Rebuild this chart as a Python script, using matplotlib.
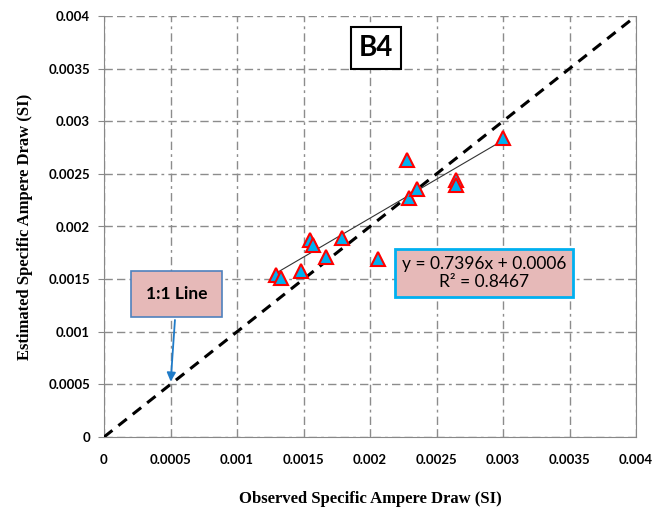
import numpy as np
import matplotlib
matplotlib.use('Agg')
import matplotlib.pyplot as plt

# observed vs estimated specific ampere draw (B4)
observed = [0.00129, 0.00133, 0.00148, 0.00167, 0.00155, 0.00157, 0.00179,
            0.00206, 0.00228, 0.00229, 0.00235, 0.00265, 0.00265, 0.00300]
estimated = [0.00154, 0.00151, 0.00158, 0.00171, 0.00187, 0.00182, 0.00189,
             0.00169, 0.00263, 0.00227, 0.00236, 0.00244, 0.00239, 0.00284]

slope = 0.7396
intercept = 0.0006
r2 = 0.8467

ticks = [0, 0.0005, 0.001, 0.0015, 0.002, 0.0025, 0.003, 0.0035, 0.004]
tick_labels = ['0', '0.0005', '0.001', '0.0015', '0.002', '0.0025', '0.003', '0.0035', '0.004']

fig = plt.figure( figsize = ( 6.54, 5.11 ), dpi = 100 )
ax = fig.add_axes( [ 104/654, 1 - 437/511, 532/654, 421/511 ] )

ax.set_xlim( 0, 0.004 )
ax.set_ylim( 0, 0.004 )
ax.set_xticks( ticks )
ax.set_yticks( ticks )
ax.set_xticklabels( tick_labels, fontfamily = 'Lato', fontweight = 'bold', fontsize = 9.5 )
ax.set_yticklabels( tick_labels, fontfamily = 'Lato', fontweight = 'bold', fontsize = 9.5 )
ax.tick_params( axis = 'x', length = 0, pad = 12 )
ax.tick_params( axis = 'y', length = 4, color = '#888888', pad = 6 )

ax.grid( True, color = '#8c8c8c', linestyle = ( 0, ( 6, 3, 6, 3, 2, 3 ) ), linewidth = 1.0 )
ax.set_axisbelow( True )
for side in [ 'left', 'bottom', 'right' ] :
    ax.spines[ side ].set_color( '#888888' )
ax.spines[ 'top' ].set_visible( False )

# 1:1 line
ax.plot( [ 0, 0.004 ], [ 0, 0.004 ], color = 'black', linestyle = ( 0, ( 3.5, 2.5 ) ), linewidth = 2.2, zorder = 3 )

# trendline
xs = np.array( [ min( observed ), max( observed ) ] )
ax.plot( xs, slope * xs + intercept, color = '#333333', linewidth = 0.8, zorder = 4 )

ax.plot( observed, estimated, linestyle = 'none', marker = '^', markersize = 9.5,
         markerfacecolor = '#00B0F0', markeredgecolor = 'red', markeredgewidth = 1.5, zorder = 5 )

ax.set_xlabel( 'Observed Specific Ampere Draw (SI)', fontfamily = 'Liberation Serif',
               fontweight = 'bold', fontsize = 12, labelpad = 18 )
ax.set_ylabel( 'Estimated Specific Ampere Draw (SI)', fontfamily = 'Liberation Serif',
               fontweight = 'bold', fontsize = 12, labelpad = 11 )

ax.text( 0.002045, 0.003696, 'B4', ha = 'center', va = 'center', fontfamily = 'Lato',
         fontweight = 'bold', fontsize = 20, zorder = 6,
         bbox = dict( boxstyle = 'square,pad=0.28', facecolor = 'white', edgecolor = 'black', linewidth = 1.5 ) )

ax.annotate( '1:1 Line', xy = ( 0.0005, 0.0005 ), xytext = ( 0.000547, 0.00136 ),
             ha = 'center', va = 'center', fontfamily = 'Lato', fontweight = 'bold', fontsize = 12.5,
             bbox = dict( boxstyle = 'square,pad=0.85', facecolor = '#E6B9B8', edgecolor = '#4F81BD', linewidth = 1.2 ),
             arrowprops = dict( arrowstyle = '-|>', color = '#1F7BC8', linewidth = 1.3, mutation_scale = 13 ),
             zorder = 6 )

ax.text( 0.002857, 0.001558, 'y = %.4fx + %.4f\nR² = %.4f' % ( slope, intercept, r2 ),
         ha = 'center', va = 'center', fontfamily = 'Lato', fontsize = 12.5, linespacing = 1.15,
         zorder = 6,
         bbox = dict( boxstyle = 'square,pad=0.4', facecolor = '#E6B9B8', edgecolor = '#00B0F0', linewidth = 2 ) )

fig.savefig( 'out.png', dpi = 100 )
